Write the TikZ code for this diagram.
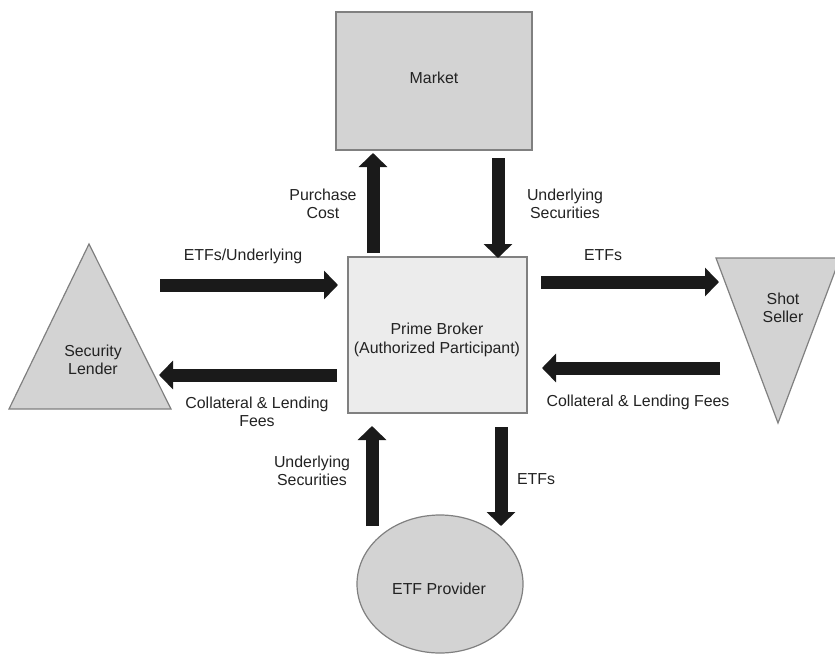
\documentclass[tikz,border=0pt]{standalone}
\usepackage{fontspec}
\setmainfont{Liberation Sans}
\usetikzlibrary{arrows.meta,shapes.geometric}
\definecolor{boxgray}{HTML}{D3D3D3}
\definecolor{pbgray}{HTML}{ECECEC}
\definecolor{edgegray}{HTML}{808080}
\definecolor{arrowblack}{HTML}{1A1A1A}
\definecolor{txt}{HTML}{222222}
\tikzset{
  lbl/.style={font=\fontsize{15.9}{18.5}\selectfont, text=txt, align=center, inner sep=0pt},
  bigarrow/.style={draw=arrowblack, line width=13pt, -{Triangle[length=14pt,width=28pt]}},
  shapebox/.style={draw=edgegray, line width=1.2pt},
}
\begin{document}
\begin{tikzpicture}[x=1pt,y=-1pt]
\useasboundingbox (0,0) rectangle (835,654);
\clip (0,0) rectangle (835,654);
% Market
\node[shapebox, fill=boxgray, minimum width=196pt, minimum height=138pt, inner sep=0pt] (market) at (434,81) {};
\node[lbl] (marketlbl) at (434,78) {Market};
% Prime broker
\node[shapebox, fill=pbgray, minimum width=179pt, minimum height=156pt, inner sep=0pt] (pb) at (437.5,335) {};
\node[lbl] (pblbl) at (437,340) {Prime Broker\\(Authorized Participant)};
% Security lender
\coordinate (sla) at (89,244);
\coordinate (slb) at (9,409);
\coordinate (slc) at (171,409);
\filldraw[shapebox, fill=boxgray, line join=miter] (sla) -- (slb) -- (slc) -- cycle;
\node[lbl] (sllbl) at (93,360) {Security\\Lender};
% Short seller
\coordinate (ssa) at (716,258);
\coordinate (ssb) at (840,258);
\coordinate (ssc) at (778,423);
\filldraw[shapebox, fill=boxgray, line join=miter] (ssa) -- (ssb) -- (ssc) -- cycle;
\node[lbl] (sslbl) at (783,308) {Shot\\Seller};
% ETF provider
\node[shapebox, fill=boxgray, ellipse, minimum width=166pt, minimum height=138pt, inner sep=0pt] (etf) at (440,584) {};
\node[lbl] (etflbl) at (439,589) {ETF Provider};
% Arrow coordinates
\coordinate (a1s) at (373,253); \coordinate (a1e) at (373,153);
\coordinate (a2s) at (498,158); \coordinate (a2e) at (498,258);
\coordinate (a3s) at (160,285); \coordinate (a3e) at (338,285);
\coordinate (a4s) at (337,375); \coordinate (a4e) at (159,375);
\coordinate (a5s) at (541,282); \coordinate (a5e) at (719,282);
\coordinate (a6s) at (720,368); \coordinate (a6e) at (542,368);
\coordinate (a7s) at (372,526); \coordinate (a7e) at (372,426);
\coordinate (a8s) at (501,427); \coordinate (a8e) at (501,526);
\draw[bigarrow] (a1s) -- (a1e);
\draw[bigarrow] (a2s) -- (a2e);
\draw[bigarrow] (a3s) -- (a3e);
\draw[bigarrow] (a4s) -- (a4e);
\draw[bigarrow] (a5s) -- (a5e);
\draw[bigarrow] (a6s) -- (a6e);
\draw[bigarrow] (a7s) -- (a7e);
\draw[bigarrow] (a8s) -- (a8e);
% Labels
\node[lbl] (l1) at (323,204) {Purchase\\Cost};
\node[lbl] (l2) at (565,204) {Underlying\\Securities};
\node[lbl] (l3) at (243,256) {ETFs/Underlying};
\node[lbl] (l4) at (257,412) {Collateral \& Lending\\Fees};
\node[lbl] (l5) at (603,255) {ETFs};
\node[lbl] (l6) at (638,402) {Collateral \& Lending Fees};
\node[lbl] (l7) at (312,471) {Underlying\\Securities};
\node[lbl] (l8) at (536,479) {ETFs};
\end{tikzpicture}
\end{document}
